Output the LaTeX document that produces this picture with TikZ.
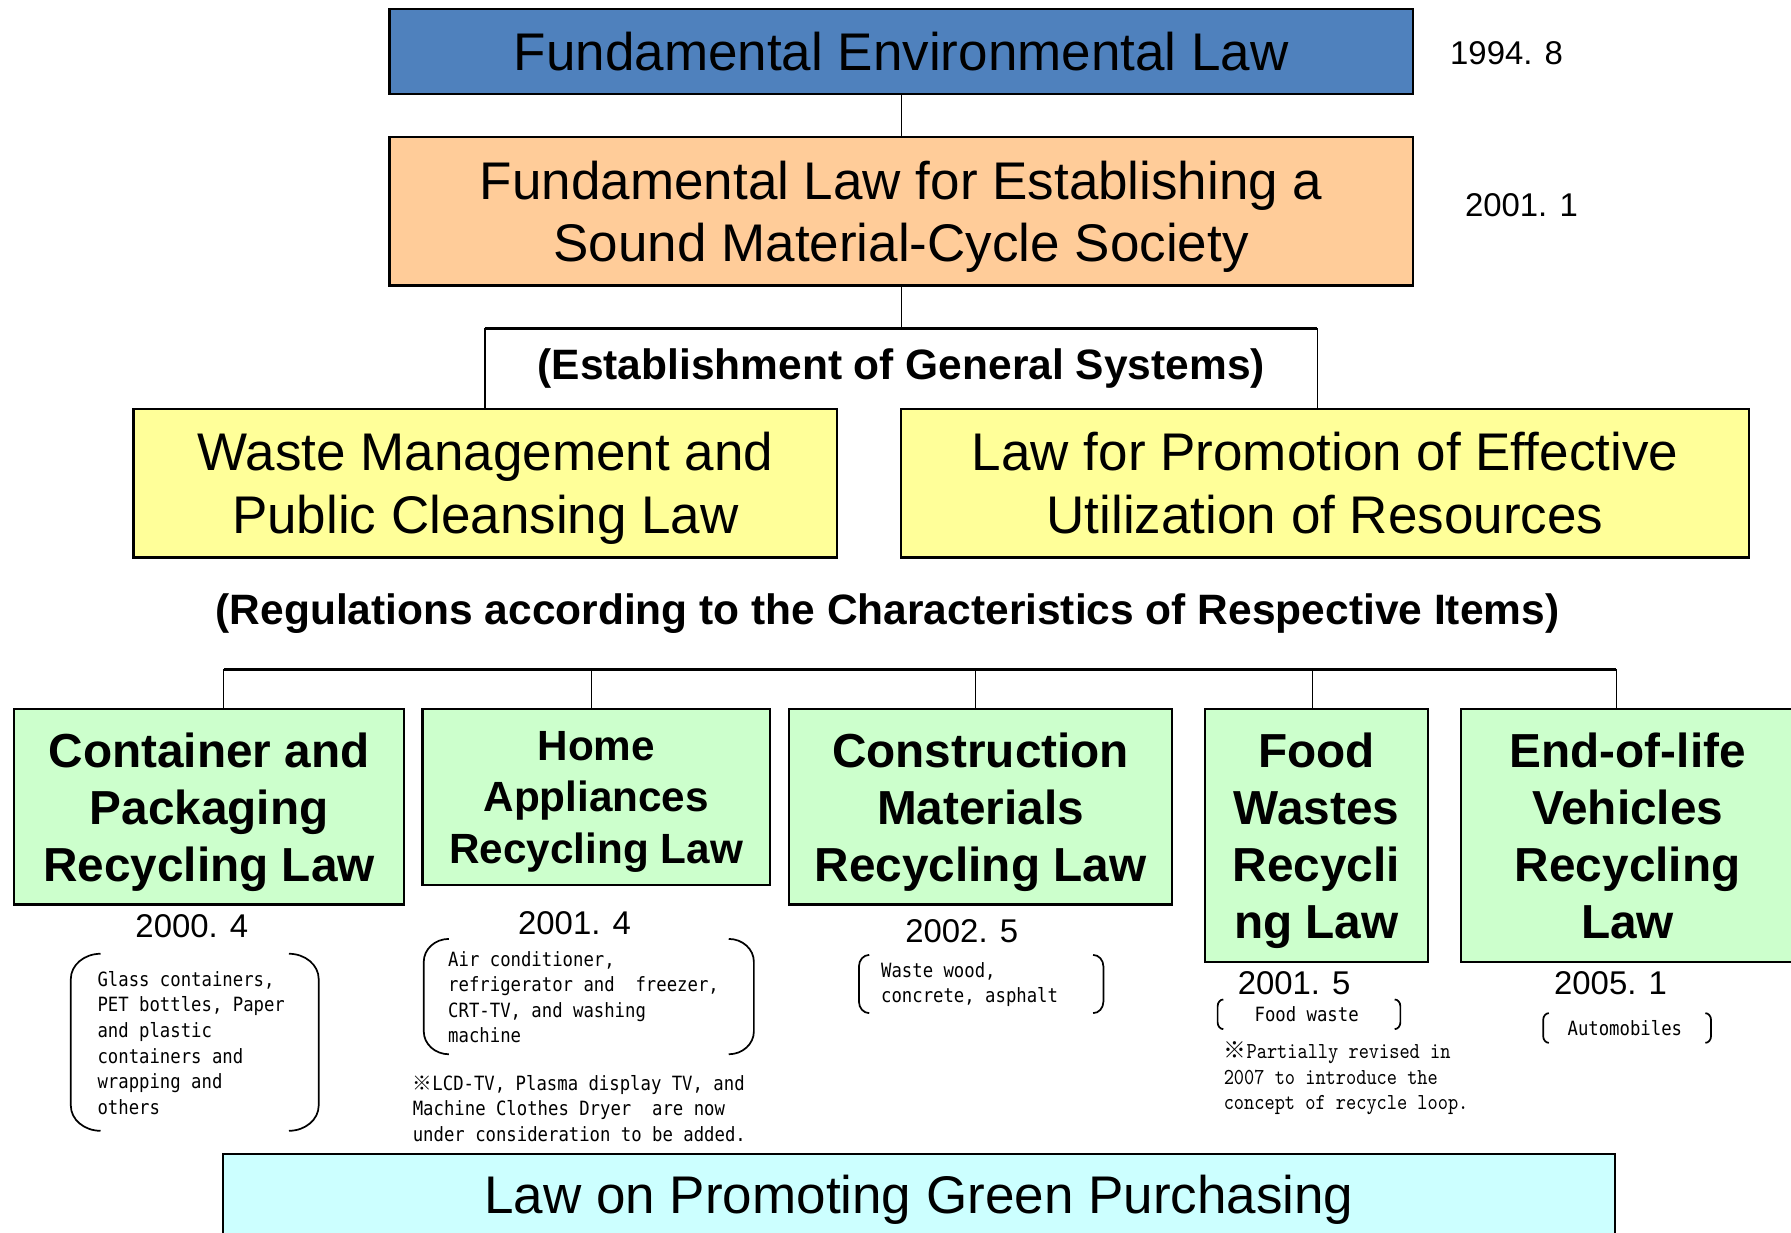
\documentclass[tikz,border=0pt]{standalone}
\usepackage{fontspec}
\setmainfont{Liberation Sans}
\newfontfamily\notefont[FakeStretch=0.88]{DejaVu Sans Mono}
\newfontfamily\serifnote[FakeStretch=0.85]{lmmono10-regular.otf}
\newfontfamily\cjk{Noto Sans CJK JP}
\definecolor{lawblue}{HTML}{4F81BD}
\definecolor{lawpeach}{HTML}{FFCC99}
\definecolor{lawyellow}{HTML}{FFFF99}
\definecolor{lawgreen}{HTML}{CCFFCC}
\definecolor{lawcyan}{HTML}{CCFFFF}
\newcommand\lawbrk[6]{%
  \draw[brk] ({#1+#5},#2) .. controls ({#1+0.45*#5},#2) and (#1,{#2+0.45*#6}) .. (#1,{#2+#6})
     -- (#1,{#4-#6}) .. controls (#1,{#4-0.45*#6}) and ({#1+0.45*#5},#4) .. ({#1+#5},#4);
  \draw[brk] ({#3-#5},#2) .. controls ({#3-0.45*#5},#2) and (#3,{#2+0.45*#6}) .. (#3,{#2+#6})
     -- (#3,{#4-#6}) .. controls (#3,{#4-0.45*#6}) and ({#3-0.45*#5},#4) .. ({#3-#5},#4);}
\begin{document}
\begin{tikzpicture}[x=0.5pt,y=-0.5pt,
  box/.style={draw=black, line width=1pt, inner sep=0pt, align=center, text depth=0pt},
  big/.style={font=\fontsize{23.2}{27.5}\selectfont},
  bighead/.style={font=\bfseries\fontsize{18.6}{22}\selectfont, inner sep=0pt},
  green/.style={box, fill=lawgreen, font=\bfseries\fontsize{20.9}{25}\selectfont},
  date/.style={font=\fontsize{14.4}{16}\selectfont, inner sep=0pt},
  note/.style={font=\notefont\fontsize{8.6}{11.2}\selectfont, align=left, anchor=west, inner sep=0pt},
  snote/.style={font=\serifnote\fontsize{10}{11}\selectfont, align=left, anchor=west, inner sep=0pt},
  conn/.style={line width=0.5pt},
  brk/.style={line width=0.75pt}]
\useasboundingbox (0,0) rectangle (1568,1079);
\clip (0,0) rectangle (1568,1079);

% top boxes
\node[box, fill=lawblue, big, minimum width=448pt, minimum height=37pt] (fel) at (789,45) {Fundamental Environmental Law};
\node[box, fill=lawpeach, big, minimum width=448pt, minimum height=65pt] (fls) at (789,185) {Fundamental Law for Establishing a\\Sound Material-Cycle Society};
\node[date] (d1) at (1319,47) {1994. 8};
\node[date] (d2) at (1332,180) {2001. 1};
\draw[conn] (fel.south) -- (fls.north);

% general systems
\node[bighead, minimum width=364pt, minimum height=34.5pt] (gen) at (789,322.5) {(Establishment of General Systems)};
\draw[conn] (fls.south) -- (gen.north);
\draw[conn] (gen.south west) -- (gen.north west);
\draw[conn] (gen.north east) -- (gen.south east);
\draw[line width=1pt] (gen.north west) -- (gen.north east);

\node[box, fill=lawyellow, big, minimum width=308pt, minimum height=65pt] (wm) at (425,423) {Waste Management and\\Public Cleansing Law};
\node[box, fill=lawyellow, big, minimum width=371pt, minimum height=65pt] (pe) at (1160,423) {Law for Promotion of Effective\\Utilization of Resources};

\node[bighead] (reg) at (777,537) {(Regulations according to the Characteristics of Respective Items)};

% bar
\coordinate (t1) at (196,586);
\coordinate (t2) at (518,586);
\coordinate (t3) at (854,586);
\coordinate (t4) at (1149,586);
\coordinate (t5) at (1415,586);
\draw[line width=1.2pt] (t1) -- (t5);

% green boxes
\node[green, minimum width=171pt, minimum height=85.5pt] (g1) at (183,706.5) {Container and\\Packaging\\Recycling Law};
\node[green, font=\bfseries\fontsize{18.5}{22.5}\selectfont, minimum width=152pt, minimum height=77pt] (g2) at (522,698) {Home\\Appliances\\Recycling Law};
\node[green, minimum width=167.5pt, minimum height=85.5pt] (g3) at (858.5,706.5) {Construction\\Materials\\Recycling Law};
\node[green, minimum width=97.5pt, minimum height=110.5pt] (g4) at (1152.5,731.5) {Food\\Wastes\\Recycli\\ng Law};
\node[green, minimum width=146pt, minimum height=110.5pt] (g5) at (1425,731.5) {End-of-life\\Vehicles\\Recycling\\Law};
\draw[conn] (t1) -- (t1 |- g1.north);
\draw[conn] (t2) -- (t2 |- g2.north);
\draw[conn] (t3) -- (t3 |- g3.north);
\draw[conn] (t4) -- (t4 |- g4.north);
\draw[conn] (t5) -- (t5 |- g5.north);

% dates
\node[date] (e1) at (168,811) {2000. 4};
\node[date] (e2) at (503,808) {2001. 4};
\node[date] (e3) at (842,815) {2002. 5};
\node[date] (e4) at (1133,861) {2001. 5};
\node[date] (e5) at (1410,861) {2005. 1};

% notes
\node[note] (n1) at (85,913) {Glass containers,\\PET bottles, Paper\\and plastic\\containers and\\wrapping and\\others};
\lawbrk{62}{835}{279}{990}{26}{22}
\node[note] (n2) at (392,873) {Air conditioner,\\refrigerator and~~freezer,\\CRT-TV, and washing\\machine};
\lawbrk{371}{822}{660}{923}{22}{20}
\node[note] (n2b) at (361,970.5) {{\cjk ※}LCD-TV, Plasma display TV, and\\Machine Clothes Dryer~~are now\\under consideration to be added.};
\node[note] (n3) at (771,862) {Waste wood,\\concrete, asphalt};
\lawbrk{752}{836}{966}{887}{9}{10}
\node[note] (n4) at (1098,888) {Food waste};
\lawbrk{1066}{875}{1226}{901}{5}{6}
\node[snote] (n4b) at (1071,944) {{\cjk ※}Partially revised in\\2007 to introduce the\\concept of recycle loop.};
\node[note] (n5) at (1372,900) {Automobiles};
\lawbrk{1351}{887}{1498}{913}{5}{6}

% bottom
\node[box, fill=lawcyan, big, minimum width=609.5pt, minimum height=36pt] (gp) at (804.5,1046) {Law on Promoting Green Purchasing};
\end{tikzpicture}
\end{document}
